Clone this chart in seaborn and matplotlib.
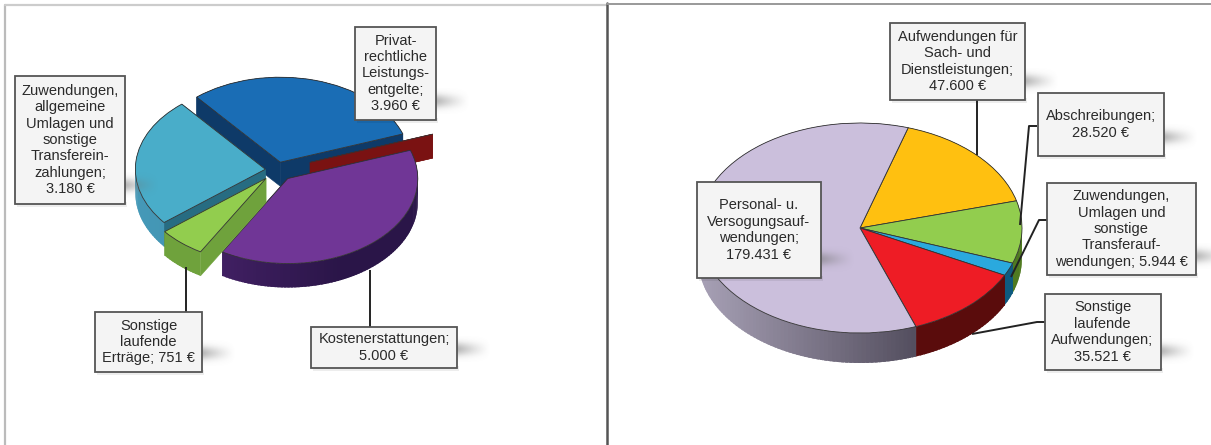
import numpy as np
import matplotlib
matplotlib.use("Agg")
import matplotlib.pyplot as plt
from matplotlib.colors import to_rgb
from matplotlib.patches import Rectangle
import seaborn as sns

# ---- data -------------------------------------------------------------
left_names = ["Privatrechtliche Leistungsentgelte", "(ohne Beschriftung)", "Kostenerstattungen",
              "Sonstige laufende Erträge", "Zuwendungen"]
left_values = [3960, 0, 5000, 751, 3180]
left_explode = [0.095, 0.27, 0.13, 0.13, 0.09]
left_top = ["#1A6DB5", "#7A1212", "#703696", "#92CD4E", "#49ADC9"]
left_face = ["#0E3A68", "#7A1212", "#2E1650", "#6FA23C", "#276C82"]
left_side_l = ["#0E3A68", "#7A1212", "#4C2570", "#6FA23C", "#4599B8"]
left_side_d = ["#0E3A68", "#7A1212", "#2A1548", "#6FA23C", "#3A85A0"]
left_order = [1, 1.5, 3, 4, 2]

right_names = ["Sach- und Dienstleistungen", "Abschreibungen", "Transferaufwendungen",
               "Sonstige laufende Aufwendungen", "Personal"]
right_values = [47600, 28520, 5944, 35521, 179431]
right_explode = [0, 0, 0, 0, 0]
right_top = ["#FFC010", "#92CD4E", "#2AA9DE", "#EE1C25", "#CBBFDC"]
right_face = ["#8A6A08", "#4F7A20", "#0E5A80", "#701010", "#6A6378"]
right_side_l = ["#8A6A08", "#4F7A20", "#0E5A80", "#701010", "#A8A1B6"]
right_side_d = ["#8A6A08", "#4F7A20", "#0E5A80", "#5A0C0C", "#4F4A5A"]
right_order = [1, 2, 3, 4, 5]

left_labels = [
    ("Privat-\nrechtliche\nLeistungs-\nentgelte;\n3.960 €", (355, 27, 436, 120)),
    ("Zuwendungen,\nallgemeine\nUmlagen und\nsonstige\nTransferein-\nzahlungen;\n3.180 €", (15, 76, 125, 204)),
    ("Sonstige\nlaufende\nErträge; 751 €", (95, 312, 202, 372)),
    ("Kostenerstattungen;\n5.000 €", (311, 327, 457, 368)),
]
right_labels = [
    ("Aufwendungen für\nSach- und\nDienstleistungen;\n47.600 €", (889.5, 23, 1025, 100)),
    ("Abschreibungen;\n28.520 €", (1037.5, 93, 1164, 156)),
    ("Zuwendungen,\nUmlagen und\nsonstige\nTransferauf-\nwendungen; 5.944 €", (1047, 183, 1196, 275)),
    ("Sonstige\nlaufende\nAufwendungen;\n35.521 €", (1044.5, 294, 1160.5, 370)),
    ("Personal- u.\nVersogungsauf-\nwendungen;\n179.431 €", (696.6, 182, 820.7, 278)),
]
leaders = [
    [(186, 267), (186, 312)],
    [(370, 270), (370, 327)],
    [(977, 100), (977, 155)],
    [(1037, 126), (1029, 126), (1020, 225)],
    [(1047, 220), (1039, 220), (1011, 277)],
    [(1044.5, 322), (1037, 322), (972, 334)],
]

# ---- figure -----------------------------------------------------------
W, H = 1211, 445
sns.set_theme(style="white")
plt.rcParams["font.family"] = ["Liberation Sans", "DejaVu Sans"]
fig = plt.figure(figsize=(W / 100, H / 100), dpi=100, facecolor="white")


def pie3d(values, explode, start, top, face, side_l, side_d, order, cx, cy, rx, ry, depth, flat=False):
    ax = fig.add_axes([0, 0, 1, 1], facecolor="none")
    wedges, _ = ax.pie(values, explode=explode, startangle=start, counterclock=False,
                       colors=sns.color_palette(top), radius=1,
                       wedgeprops=dict(edgecolor="#333333", linewidth=0.6), normalize=True)
    d = depth / ry
    for w, fc, sl, sd, z in zip(wedges, face, side_l, side_d, order):
        w.set_zorder(20 if flat else z + 0.5)
        x0, y0 = w.center
        for t in (w.theta1, w.theta2):
            a = np.deg2rad(t)
            xe, ye = x0 + w.r * np.cos(a), y0 + w.r * np.sin(a)
            ax.fill([x0, xe, xe, x0], [y0, ye, ye - d, y0 - d], color=fc, lw=0.4, zorder=z)
        ts = np.arange(w.theta1, w.theta2, 1.5)
        cl, cd = np.array(to_rgb(sl)), np.array(to_rgb(sd))
        for a0 in ts:
            a1 = min(a0 + 2.6, w.theta2)
            ra0, ra1 = np.deg2rad(a0), np.deg2rad(a1)
            xa, ya = x0 + w.r * np.cos(ra0), y0 + w.r * np.sin(ra0)
            xb, yb = x0 + w.r * np.cos(ra1), y0 + w.r * np.sin(ra1)
            f = np.clip((np.cos(ra0) + 1) / 1.4, 0, 1)
            ax.fill([xa, xb, xb, xa], [ya, yb, yb - d, ya - d],
                    color=tuple(cl * (1 - f) + cd * f), lw=0, zorder=z + 0.1)
    ax.set_aspect("auto")
    ax.set_xlim((0 - cx) / rx, (W - cx) / rx)
    ax.set_ylim((cy - H) / ry, cy / ry)
    ax.axis("off")
    return ax


pie3d(left_values, left_explode, 130, left_top, left_face, left_side_l, left_side_d, left_order,
      277, 170, 130, 85, 24)
pie3d(right_values, right_explode, 72.7, right_top, right_face, right_side_l, right_side_d, right_order,
      860, 228, 162, 105, 30, flat=True)

# overlay in pixel coordinates
ov = fig.add_axes([0, 0, 1, 1], facecolor="none")
ov.axis("off")


def streak(x0, x1, y0, y1, alpha=0.55):
    xs = np.linspace(0, 1, 40)
    ys = np.linspace(-1, 1, 30)
    gx, gy = np.meshgrid(xs, ys)
    a = alpha * (1 - gx) ** 1.3 * np.exp(-(gy * 1.9) ** 2)
    img = np.zeros(gx.shape + (4,))
    img[..., :3] = 0.45
    img[..., 3] = a
    ov.imshow(img, extent=(x0, x1, y1, y0), aspect="auto", zorder=1, interpolation="bilinear")


for pts in leaders:
    xs, ys = zip(*pts)
    ov.plot(xs, ys, color="#222222", lw=1.4, zorder=2, solid_capstyle="butt")

for text, (x0, y0, x1, y1) in left_labels + right_labels:
    streak(x1 - 2, x1 + 34, y1 - 32, y1 - 6, 0.55)
    ov.add_patch(Rectangle((x0 + 2, y1 - 2), x1 - x0, 5, fc="#000000", alpha=0.07, lw=0, zorder=1))
    ov.add_patch(Rectangle((x0, y0), x1 - x0, y1 - y0, fc="#F4F4F4", ec="#555555", lw=1.3, zorder=3))
    ov.text((x0 + x1) / 2, (y0 + y1) / 2, text, ha="center", va="center", fontsize=10.5,
            linespacing=1.22, color="#2A2A2A", zorder=4)

# panel frames
ov.plot([5, 5], [5, H], color="#BBBBBB", lw=1.6, zorder=5)
ov.plot([5, 606], [5, 5], color="#CCCCCC", lw=1.6, zorder=5)
ov.plot([607, 607], [3, H], color="#555555", lw=1.8, zorder=5)
ov.plot([607, W], [4, 4], color="#999999", lw=1.4, zorder=5)

ov.set_xlim(0, W)
ov.set_ylim(H, 0)

fig.savefig("out.png", dpi=100, facecolor="white")
